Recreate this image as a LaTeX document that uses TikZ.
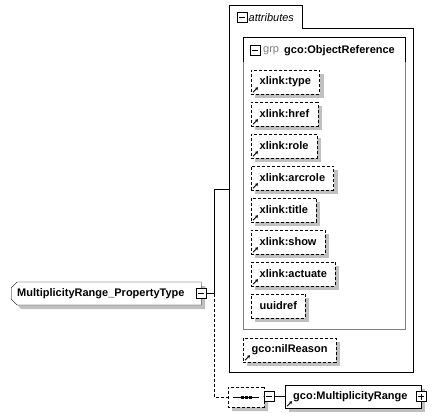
\documentclass[tikz,border=0pt]{standalone}
\usepackage{fontspec}
\setmainfont{Liberation Sans}
\usetikzlibrary{shapes.misc,shadows,arrows.meta}
\definecolor{shadowgray}{RGB}{192,192,192}
\definecolor{grpgray}{RGB}{128,128,128}
\newcommand\xsdfont{\fontsize{11}{13}\selectfont}
\tikzset{
  dropgray/.style={drop shadow={shadow xshift=4pt,shadow yshift=-4pt,fill=shadowgray,opacity=1}},
  dashbox/.style={dash pattern=on 3pt off 2pt},
  attbox/.style={draw,dashbox,fill=white,anchor=west,font=\xsdfont\bfseries,
    inner xsep=8.5pt,inner ysep=0pt,minimum height=24pt,dropgray},
  elembox/.style={draw,fill=white,anchor=west,font=\xsdfont\bfseries,align=left,
    inner xsep=6pt,inner ysep=0pt,minimum height=23pt,dropgray},
  iconbox/.style={draw,fill=white,line width=1pt,minimum size=10pt,inner sep=0pt},
  minusbox/.style={iconbox,path picture={
    \draw[line width=1pt] ([xshift=2pt]path picture bounding box.west) -- ([xshift=-2pt]path picture bounding box.east);}},
  plusbox/.style={iconbox,path picture={
    \draw[line width=1pt] ([xshift=2pt]path picture bounding box.west) -- ([xshift=-2pt]path picture bounding box.east);
    \draw[line width=1pt] ([yshift=-2pt]path picture bounding box.north) -- ([yshift=2pt]path picture bounding box.south);}},
  refarrow/.style={-{Stealth[length=3pt,width=3.5pt]},line width=0.9pt},
  seqbox/.style={chamfered rectangle,chamfered rectangle sep=5pt,draw,dashbox,fill=white,
    minimum width=36pt,minimum height=20pt,inner sep=0pt,dropgray},
}
\begin{document}
\begin{tikzpicture}[x=1pt,y=-1pt]
  \useasboundingbox (0,0) rectangle (435,419);
  % attributes
  \draw (229,372) -- (229,5) -- (302,5) -- (302,28) -- (413,28) -- (413,372) -- cycle;
  \node[minusbox] (attMinus) at (242,18) {};
  \node[anchor=west,inner sep=1pt,font=\xsdfont\itshape] (attLbl) at (247.5,18) {attributes};
  % group gco:ObjectReference
  \draw[grpgray] (243,37) rectangle (405,329);
  \draw (243,62) -- (243,37) -- (405,37) -- (405,62);
  \node[minusbox] (grpMinus) at (255,50.5) {};
  \node[anchor=west,inner sep=1pt,font=\xsdfont,text=grpgray] (grpTag) at (262,50.5) {grp};
  \node[anchor=west,inner sep=1pt,font=\xsdfont\bfseries] (grpName) at (283,50.5) {gco:ObjectReference};
  \foreach \i/\t in {0/type, 1/href, 2/role, 3/arcrole, 4/title, 5/show, 6/actuate}{
    \node[attbox] (A\i) at (251,{82+32*\i}) {xlink:\t};
    \draw[refarrow] ([shift={(2,-2)}]A\i.south west) -- ++(5,-5);
  }
  \node[attbox] (A7) at (251,306) {uuidref};
  \node[attbox] (nilR) at (243,350) {gco:nilReason};
  \draw[refarrow] ([shift={(2,-2)}]nilR.south west) -- ++(5,-5);
  % element
  \node[elembox,chamfered rectangle,chamfered rectangle corners={north west,south west},
    chamfered rectangle xsep=3pt,chamfered rectangle ysep=3pt,inner xsep=3pt,text width=178pt] (M) at (11,293.5) {MultiplicityRange\_PropertyType};
  \node[minusbox] (mMinus) at (M.east) {};
  \coordinate (fork) at (214,293.5);
  \coordinate (attIn) at (229,189);
  \draw (mMinus.east) -- (fork) |- (attIn);
  % sequence
  \node[seqbox] (seq) at (246,397) {};
  \draw (seq.center) ++(-13,0) -- ++(26,0);
  \foreach \d in {-4,0,4}{
    \fill ([shift={({\d-1.5},-1.5)}]seq.center) rectangle ++(3,3);
  }
  \draw[dashbox] (fork) |- (seq.west);
  \node[minusbox] (sMinus) at (269,396.5) {};
  \node[elembox,inner xsep=8pt,text width=120pt] (mRange) at (285,396.5) {gco:MultiplicityRange};
  \draw[refarrow] ([shift={(2,-2)}]mRange.south west) -- ++(5,-5);
  \node[plusbox] (mPlus) at (mRange.east) {};
  \draw (seq.east) -- (sMinus.west);
  \draw (sMinus.east) -- (mRange.west);
\end{tikzpicture}
\end{document}
